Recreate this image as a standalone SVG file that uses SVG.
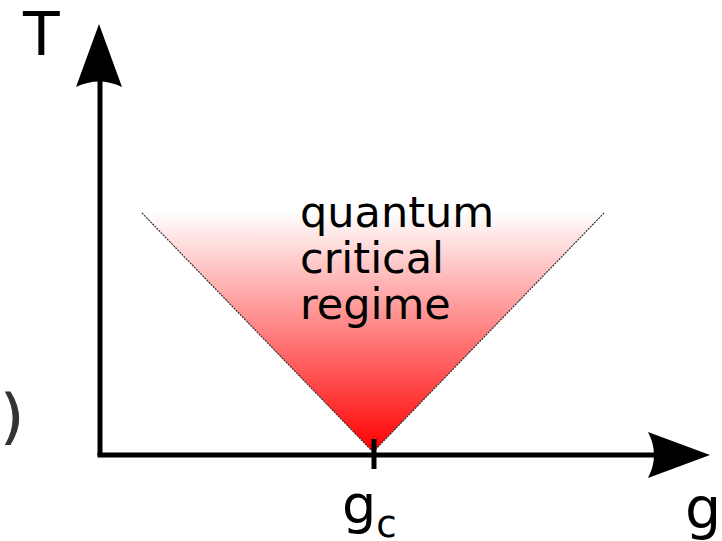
<svg xmlns="http://www.w3.org/2000/svg" width="722" height="541" viewBox="0 0 722 541">
<defs>
<linearGradient id="qc" x1="0" y1="212" x2="0" y2="452" gradientUnits="userSpaceOnUse">
<stop offset="0" stop-color="#ff0000" stop-opacity="0"/>
<stop offset="1" stop-color="#ff0000" stop-opacity="1"/>
</linearGradient>
<style>
text{font-family:"DejaVu Sans","Liberation Sans",sans-serif;fill:#000}
.axis{stroke:#000;stroke-width:5;fill:none}
.edge{stroke:#333;stroke-width:1.2;stroke-dasharray:2 1;fill:none}
</style>
</defs>
<rect width="722" height="541" fill="#fff"/>
<g id="regime">
<polygon points="142,213 604,213 373,452" fill="url(#qc)"/>
<line class="edge" x1="142" y1="213" x2="373" y2="452"/>
<line class="edge" x1="604" y1="213" x2="373" y2="452"/>
<text font-size="43"><tspan x="300" y="227">quantum</tspan><tspan x="300" y="273">critical</tspan><tspan x="300" y="319">regime</tspan></text>
</g>
<g id="connectors">
<path class="axis" d="M100,455 V78"/>
<path d="M99,24 L122,87 Q99,76 76,87 Z" fill="#000"/>
<path class="axis" d="M97.5,455 H660"/>
<path d="M710,455 L648,478 Q660,455 648,432 Z" fill="#000"/>
<line x1="374" y1="439" x2="374" y2="469" stroke="#000" stroke-width="5"/>
</g>
<g id="label-T"><text x="23" y="55" font-size="60">T</text></g>
<g id="label-g"><text x="685" y="528" font-size="57">g</text></g>
<g id="label-gc"><text x="342" y="523" font-size="54">g<tspan font-size="37" y="537">c</tspan></text></g>
<g id="bracket"><text x="1" y="437" font-size="58" style="fill:#333;stroke:#333;stroke-width:1">)</text></g>
</svg>
